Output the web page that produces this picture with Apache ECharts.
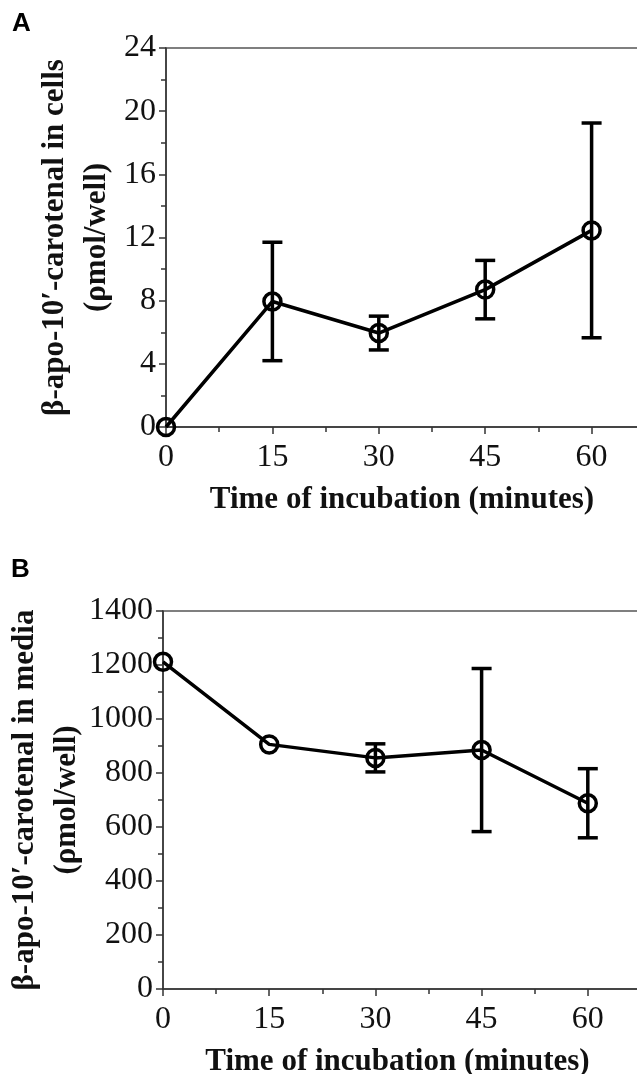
<!DOCTYPE html>
<html>
<head>
<meta charset="utf-8">
<script src="https://cdn.jsdelivr.net/npm/echarts@6/dist/echarts.min.js"></script>
<style>
  html, body { margin: 0; padding: 0; background: #fff; }
  #chart { width: 637px; height: 1074px; }
</style>
</head>
<body>
<div id="chart"></div>
<script>
// Sampling times (minutes)
const timeMin = [0, 15, 30, 45, 60];

// Panel A: β-apo-10′-carotenal in cells (ρmol/well), mean and error
const cellsMean = [0, 7.95, 5.95, 8.7, 12.45];
const cellsErr  = [0, 3.75, 1.07, 1.85, 6.8];

// Panel B: β-apo-10′-carotenal in media (ρmol/well), mean and error
const mediaMean = [1212, 906, 856, 885, 688];
const mediaErr  = [0, 0, 52, 302, 128];

// Axis ranges and steps
const xRange     = [0, 75];
const xStep      = 15;
const cellsRange = [0, 24];
const cellsStep  = 4;
const mediaRange = [0, 1400];
const mediaStep  = 200;

// Texts
const panelLabels = ['A', 'B'];
const xTitle      = 'Time of incubation (minutes)';
const cellsTitle  = 'β-apo-10′-carotenal in cells\n(ρmol/well)';
const mediaTitle  = 'β-apo-10′-carotenal in media\n(ρmol/well)';

const serif = '"Liberation Serif", "Times New Roman", Times, serif';
const ink = '#111';
const axisInk = '#333';

function xAxisFor(gridIndex, shift) {
  return {
    gridIndex: gridIndex,
    type: 'value',
    min: xRange[0], max: xRange[1], interval: xStep,
    axisLine: { show: true, onZero: false, lineStyle: { color: axisInk, width: 1.5 } },
    axisTick: { show: true, length: 7, lineStyle: { color: axisInk, width: 1.5 } },
    minorTick: { show: true, splitNumber: 2, length: 5, lineStyle: { color: axisInk, width: 1.5 } },
    splitLine: { show: false },
    minorSplitLine: { show: false },
    axisLabel: { fontFamily: serif, fontSize: 32, color: ink, margin: 15, formatter: v => String(v) },
    name: xTitle,
    nameLocation: 'middle',
    nameGap: 57,
    nameMoveOverlap: false,
    nameTextStyle: {
      fontFamily: serif, fontWeight: 'bold', fontSize: 31, color: ink,
      padding: [0, shift, 0, 0]
    }
  };
}

function yAxisFor(gridIndex, range, step, title, gap) {
  return {
    gridIndex: gridIndex,
    type: 'value',
    min: range[0], max: range[1], interval: step,
    axisLine: { show: true, onZero: false, lineStyle: { color: axisInk, width: 1.5 } },
    axisTick: { show: true, length: 7, lineStyle: { color: axisInk, width: 1.5 } },
    minorTick: { show: true, splitNumber: 2, length: 5, lineStyle: { color: axisInk, width: 1.5 } },
    splitLine: { show: false },
    minorSplitLine: { show: false },
    axisLabel: { fontFamily: serif, fontSize: 32, color: ink, margin: 10, formatter: v => String(v) },
    name: title,
    nameLocation: 'middle',
    nameRotate: 90,
    nameGap: gap,
    nameMoveOverlap: false,
    nameTextStyle: {
      fontFamily: serif, fontWeight: 'bold', fontSize: 31, color: ink, lineHeight: 42
    }
  };
}

// Vertical error bars with caps
function errorBars(axisIndex, means, errs) {
  return {
    type: 'custom',
    xAxisIndex: axisIndex,
    yAxisIndex: axisIndex,
    z: 2,
    silent: true,
    clip: false,
    encode: { x: 0, y: [1, 2] },
    data: timeMin.map((t, i) => [t, means[i] - errs[i], means[i] + errs[i]]),
    renderItem: function (params, api) {
      const lo = api.value(1), hi = api.value(2);
      if (!(hi > lo)) return null;
      const top = api.coord([api.value(0), hi]);
      const bot = api.coord([api.value(0), lo]);
      const half = 10;
      const st = { stroke: '#000', lineWidth: 3.5, fill: null };
      return {
        type: 'group',
        children: [
          { type: 'line', shape: { x1: top[0], y1: top[1], x2: bot[0], y2: bot[1] }, style: st },
          { type: 'line', shape: { x1: top[0] - half, y1: top[1], x2: top[0] + half, y2: top[1] }, style: st },
          { type: 'line', shape: { x1: bot[0] - half, y1: bot[1], x2: bot[0] + half, y2: bot[1] }, style: st }
        ]
      };
    }
  };
}

function meanLine(axisIndex, means) {
  return {
    type: 'line',
    xAxisIndex: axisIndex,
    yAxisIndex: axisIndex,
    z: 3,
    clip: false,
    silent: true,
    data: timeMin.map((t, i) => [t, means[i]]),
    symbol: 'circle',
    symbolSize: 17,
    showAllSymbol: true,
    itemStyle: { color: 'rgba(0,0,0,0)', borderColor: '#000', borderWidth: 3.5 },
    lineStyle: { color: '#000', width: 3.5 },
    emphasis: { disabled: true }
  };
}

const chart = echarts.init(document.getElementById('chart'), null, { renderer: 'canvas' });

chart.setOption({
  animation: false,
  backgroundColor: '#fff',
  grid: [
    { left: 166, top: 48, right: -61, bottom: 647, show: true, borderColor: '#555', borderWidth: 1.5, outerBoundsMode: 'none', containLabel: false },
    { left: 163, top: 611, right: -57, bottom: 85, show: true, borderColor: '#555', borderWidth: 1.5, outerBoundsMode: 'none', containLabel: false }
  ],
  xAxis: [xAxisFor(0, 60), xAxisFor(1, 62)],
  yAxis: [
    yAxisFor(0, cellsRange, cellsStep, cellsTitle, 48),
    yAxisFor(1, mediaRange, mediaStep, mediaTitle, 75)
  ],
  graphic: [
    { type: 'text', left: 12, top: 11, style: { text: panelLabels[0], font: 'bold 26px "Liberation Sans", Arial, sans-serif', fill: '#000' } },
    { type: 'text', left: 11, top: 557, style: { text: panelLabels[1], font: 'bold 26px "Liberation Sans", Arial, sans-serif', fill: '#000' } }
  ],
  series: [
    errorBars(0, cellsMean, cellsErr),
    meanLine(0, cellsMean),
    errorBars(1, mediaMean, mediaErr),
    meanLine(1, mediaMean)
  ]
});
</script>
</body>
</html>
